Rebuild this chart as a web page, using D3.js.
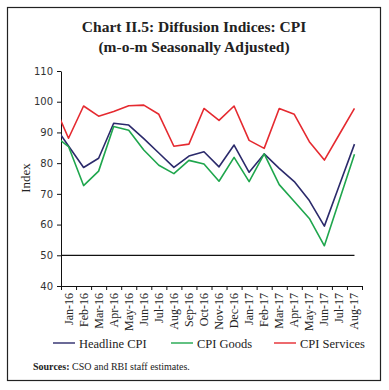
<!DOCTYPE html>
<html>
<head>
<meta charset="utf-8">
<script src="https://cdn.jsdelivr.net/npm/d3@7"></script>
<style>
  body { margin: 0; background: #fff; }
  svg { display: block; }
  text { font-family: "Liberation Serif", "Times New Roman", serif; fill: #222; }
</style>
</head>
<body>
<div id="chart"></div>
<script>
// month labels on the axis (the series also carry one leading point, Dec-15, cut off at the axis)
const monthLabels = [
  "Jan-16", "Feb-16", "Mar-16", "Apr-16", "May-16", "Jun-16", "Jul-16", "Aug-16",
  "Sep-16", "Oct-16", "Nov-16", "Dec-16", "Jan-17", "Feb-17", "Mar-17", "Apr-17",
  "May-17", "Jun-17", "Jul-17", "Aug-17"
];
const leadMonth = "Dec-15";

const headlineCPI = [92.6, 85.6, 78.6, 81.6, 93.0, 92.4, 88.0, 83.3, 78.6, 82.3, 83.7,
  78.8, 85.9, 77.0, 83.0, 78.3, 74.0, 67.8, 59.5, 72.9, 86.2];
const cpiGoods = [89.2, 85.4, 72.7, 77.4, 91.9, 90.7, 84.3, 79.3, 76.6, 80.9, 79.7,
  74.1, 81.9, 74.0, 83.0, 73.0, 67.5, 62.0, 53.1, 68.0, 82.9];
const cpiServices = [99.3, 88.1, 98.6, 95.3, 96.8, 98.7, 98.9, 95.9, 85.5, 86.2, 97.8,
  93.9, 98.6, 87.4, 84.8, 97.8, 95.9, 87.0, 81.0, 89.4, 97.8];

const refLevel = 50;
const yTicks = [40, 50, 60, 70, 80, 90, 100, 110];

const seriesList = [
  { name: "Headline CPI", values: headlineCPI, color: "#2b2a6b" },
  { name: "CPI Goods", values: cpiGoods, color: "#1fa64d" },
  { name: "CPI Services", values: cpiServices, color: "#e52a30" }
];

const width = 389, height = 390;
const margin = { top: 71, right: 27, bottom: 104, left: 61 };
const w = width - margin.left - margin.right;
const h = height - margin.top - margin.bottom;

const svg = d3.select("#chart")
  .append("svg")
  .attr("width", width)
  .attr("height", height);

// frame
svg.append("rect")
  .attr("x", 7.5).attr("y", 7.5)
  .attr("width", 373).attr("height", 373)
  .attr("fill", "none")
  .attr("stroke", "#222")
  .attr("stroke-width", 1.2);

// title
const title = svg.append("text")
  .attr("text-anchor", "middle")
  .style("font-size", "15.5px")
  .style("font-weight", "bold");
title.append("tspan").attr("x", 194).attr("y", 32).text("Chart II.5: Diffusion Indices: CPI");
title.append("tspan").attr("x", 194).attr("y", 52).text("(m-o-m Seasonally Adjusted)");

const g = svg.append("g")
  .attr("transform", `translate(${margin.left},${margin.top})`);

// index scale: band boundaries at integers, month centres at i + 0.5
const x = d3.scaleLinear().domain([0, monthLabels.length]).range([0, w]);
const y = d3.scaleLinear().domain([40, 110]).range([h, 0]);

svg.append("clipPath").attr("id", "plot-clip")
  .append("rect")
  .attr("x", 0).attr("y", -5)
  .attr("width", w).attr("height", h + 10);

// y axis
const yAxis = g.append("g")
  .call(d3.axisLeft(y).tickValues(yTicks).tickSize(4).tickSizeOuter(0).tickPadding(4));
yAxis.selectAll("text")
  .style("font-family", "'DejaVu Sans', Verdana, sans-serif")
  .style("font-size", "10px")
  .style("fill", "#333");
yAxis.selectAll("line, path").attr("stroke", "#111");

// x axis: ticks between months
const xAxis = g.append("g")
  .attr("transform", `translate(0,${h})`)
  .call(d3.axisBottom(x)
    .tickValues(d3.range(monthLabels.length + 1))
    .tickSize(4)
    .tickSizeOuter(0)
    .tickFormat(""));
xAxis.selectAll("line, path").attr("stroke", "#111");

g.selectAll(".xlabel")
  .data(monthLabels)
  .join("text")
  .attr("class", "xlabel")
  .attr("transform", (d, i) => `translate(${x(i + 0.5) + 4},${h + 7}) rotate(-90)`)
  .attr("text-anchor", "end")
  .style("font-size", "12px")
  .text(d => d);

// y axis title
svg.append("text")
  .attr("transform", "translate(30,178) rotate(-90)")
  .attr("text-anchor", "middle")
  .style("font-size", "13px")
  .text("Index");

const plot = g.append("g").attr("clip-path", "url(#plot-clip)");

// 50 reference line, from the lead month to the last month
const allMonths = [leadMonth, ...monthLabels];
plot.append("line")
  .attr("x1", x(-0.5))
  .attr("x2", x(allMonths.length - 1.5))
  .attr("y1", y(refLevel))
  .attr("y2", y(refLevel))
  .attr("stroke", "#111")
  .attr("stroke-width", 1.2);

// k = 0 is the lead month, sitting half a band left of the axis
const line = d3.line()
  .x((d, k) => x(k - 0.5))
  .y(d => y(d));

plot.selectAll(".series")
  .data(seriesList)
  .join("path")
  .attr("class", "series")
  .attr("fill", "none")
  .attr("stroke", d => d.color)
  .attr("stroke-width", 1.6)
  .attr("stroke-linejoin", "round")
  .attr("d", d => line(d.values));

// legend
const legendX = [53, 171, 274];
const legend = svg.selectAll(".legend")
  .data(seriesList)
  .join("g")
  .attr("class", "legend")
  .attr("transform", (d, i) => `translate(${legendX[i]},343)`);
legend.append("line")
  .attr("x1", 0).attr("x2", 22)
  .attr("stroke", d => d.color)
  .attr("stroke-width", 1.4);
legend.append("text")
  .attr("x", 26).attr("y", 4.5)
  .style("font-size", "12.5px")
  .text(d => d.name);

// source note
const src = svg.append("text")
  .attr("x", 33).attr("y", 370)
  .style("font-size", "10px");
src.append("tspan").style("font-weight", "bold").text("Sources:");
src.append("tspan").text(" CSO and RBI staff estimates.");
</script>
</body>
</html>
